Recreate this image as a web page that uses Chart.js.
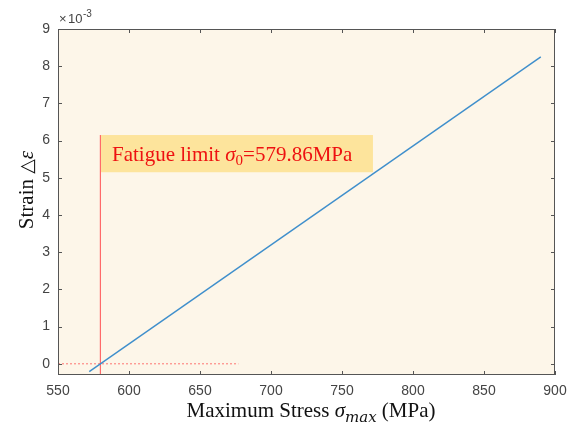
<!DOCTYPE html>
<html lang="en">
<head>
    <meta charset="UTF-8">
    <title>Fatigue limit - Strain vs Maximum Stress</title>
    <script src="https://cdn.jsdelivr.net/npm/chart.js"></script>
    <style>
        html, body { margin: 0; padding: 0; background: #fff; }
        #wrap { width: 568px; height: 434px; }
    </style>
</head>
<body>
    <div id="wrap"><canvas id="fatigueChart" width="568" height="434"></canvas></div>

    <script>
        // strain values are in units of 1e-3
        const fitStress = [572, 890];
        const fitStrain = [-0.21, 8.25];

        const limitStress = [579.86, 579.86];
        const limitStrain = [-0.3, 6.15];

        const zeroStress = [550, 677];
        const zeroStrain = [0, 0];

        const xTicks = [550, 600, 650, 700, 750, 800, 850, 900];
        const yTicks = [0, 1, 2, 3, 4, 5, 6, 7, 8, 9];

        const toPoints = (xs, ys) => xs.map((x, i) => ({ x: x, y: ys[i] }));

        const serif = '"Liberation Serif", "DejaVu Serif", serif';
        const sans = '"Liberation Sans", Arial, sans-serif';

        // background, box, inward ticks, labels and annotation
        const matlabLook = {
            id: 'matlabLook',
            beforeDraw(chart) {
                const { ctx, chartArea: a } = chart;
                ctx.save();
                ctx.fillStyle = '#fdf6e9';
                ctx.fillRect(a.left, a.top, a.right - a.left, a.bottom - a.top);
                ctx.restore();
            },
            afterDatasetsDraw(chart) {
                const { ctx, chartArea: a, scales } = chart;
                const x = scales.x, y = scales.y;
                ctx.save();

                // annotation box
                const bx0 = x.getPixelForValue(580.3), bx1 = x.getPixelForValue(771.8);
                const by0 = y.getPixelForValue(6.15), by1 = y.getPixelForValue(5.15);
                ctx.fillStyle = '#fde49c';
                ctx.fillRect(bx0, by0, bx1 - bx0, by1 - by0);
                ctx.fillStyle = '#ee1111';
                ctx.textBaseline = 'alphabetic';
                ctx.textAlign = 'left';
                let tx = bx0 + 11;
                const ty = by1 - 11;
                ctx.font = '21px ' + serif;
                ctx.fillText('Fatigue limit ', tx, ty);
                tx += ctx.measureText('Fatigue limit ').width;
                ctx.font = 'italic 21px ' + serif;
                ctx.fillText('σ', tx, ty);
                tx += ctx.measureText('σ').width;
                ctx.font = '15px ' + serif;
                ctx.fillText('0', tx, ty + 4);
                tx += ctx.measureText('0').width;
                ctx.font = '21px ' + serif;
                ctx.fillText('=579.86MPa', tx, ty);

                // box and ticks
                ctx.strokeStyle = '#555';
                ctx.lineWidth = 1;
                ctx.strokeRect(a.left + 0.5, a.top + 0.5, a.right - a.left - 1, a.bottom - a.top - 1);
                ctx.beginPath();
                xTicks.forEach(v => {
                    const px = Math.round(x.getPixelForValue(v)) + 0.5;
                    ctx.moveTo(px, a.bottom); ctx.lineTo(px, a.bottom - 4);
                    ctx.moveTo(px, a.top); ctx.lineTo(px, a.top + 4);
                });
                yTicks.forEach(v => {
                    const py = Math.round(y.getPixelForValue(v)) + 0.5;
                    ctx.moveTo(a.left, py); ctx.lineTo(a.left + 4, py);
                    ctx.moveTo(a.right, py); ctx.lineTo(a.right - 4, py);
                });
                ctx.stroke();

                // exponent label
                ctx.fillStyle = '#444';
                ctx.font = '13px ' + sans;
                ctx.fillText('\u00d7', a.left + 1, a.top - 6);
                ctx.fillText('10', a.left + 10, a.top - 6);
                ctx.font = '10px ' + sans;
                ctx.fillText('-3', a.left + 25, a.top - 12);

                // x axis title
                ctx.fillStyle = '#111';
                const parts = [
                    ['Maximum Stress ', '21px ' + serif, 0],
                    ['σ', 'italic 21px ' + serif, 0],
                    ['max', 'italic 15px "DejaVu Serif", serif', 5],
                    [' (MPa)', '21px ' + serif, 0]
                ];
                let total = 0;
                parts.forEach(p => { ctx.font = p[1]; total += ctx.measureText(p[0]).width; });
                let cx = 311 - total / 2;
                parts.forEach(p => {
                    ctx.font = p[1];
                    ctx.fillText(p[0], cx, 417 + p[2]);
                    cx += ctx.measureText(p[0]).width;
                });

                // y axis title
                ctx.translate(33, 190);
                ctx.rotate(-Math.PI / 2);
                const yparts = [
                    ['Strain ', '21px ' + serif],
                    ['\u25b3', '19px "DejaVu Sans", sans-serif'],
                    ['\u03b5', 'italic 21px ' + serif]
                ];
                total = 0;
                yparts.forEach(p => { ctx.font = p[1]; total += ctx.measureText(p[0]).width; });
                cx = -total / 2;
                yparts.forEach(p => {
                    ctx.font = p[1];
                    ctx.fillText(p[0], cx, 0);
                    cx += ctx.measureText(p[0]).width;
                });
                ctx.restore();
            }
        };

        const ctx = document.getElementById('fatigueChart').getContext('2d');

        const chart = new Chart(ctx, {
            type: 'scatter',
            data: {
                datasets: [
                    {
                        label: 'Fit',
                        data: toPoints(fitStress, fitStrain),
                        showLine: true,
                        borderColor: '#3f8fcc',
                        borderWidth: 1.4,
                        pointRadius: 0
                    },
                    {
                        label: 'Fatigue limit',
                        data: toPoints(limitStress, limitStrain),
                        showLine: true,
                        borderColor: '#ff6a6a',
                        borderWidth: 1.2,
                        pointRadius: 0
                    },
                    {
                        label: 'Zero',
                        data: toPoints(zeroStress, zeroStrain),
                        showLine: true,
                        borderColor: '#ff5555',
                        borderWidth: 0.8,
                        borderDash: [2, 2],
                        pointRadius: 0
                    }
                ]
            },
            options: {
                responsive: false,
                animation: false,
                layout: { padding: { top: 29, right: 13, left: 0, bottom: 0 } },
                plugins: {
                    legend: { display: false },
                    tooltip: { enabled: false }
                },
                scales: {
                    x: {
                        type: 'linear',
                        min: 550,
                        max: 900,
                        grid: { display: false, drawTicks: false },
                        border: { display: false },
                        afterBuildTicks: s => { s.ticks = xTicks.map(v => ({ value: v })); },
                        afterFit: s => {
                            s.height = 59;
                            s.paddingLeft = 0;
                            s.paddingRight = 0;
                        },
                        ticks: {
                            padding: 8,
                            color: '#444',
                            font: { family: sans, size: 14 },
                            maxRotation: 0
                        }
                    },
                    y: {
                        type: 'linear',
                        min: -0.3,
                        max: 9,
                        grid: { display: false, drawTicks: false },
                        border: { display: false },
                        afterBuildTicks: s => { s.ticks = yTicks.map(v => ({ value: v })); },
                        afterFit: s => {
                            s.width = 58;
                            s.paddingTop = 0;
                            s.paddingBottom = 0;
                        },
                        ticks: {
                            padding: 8,
                            color: '#444',
                            font: { family: sans, size: 14 }
                        }
                    }
                }
            },
            plugins: [matlabLook]
        });
    </script>
</body>
</html>
